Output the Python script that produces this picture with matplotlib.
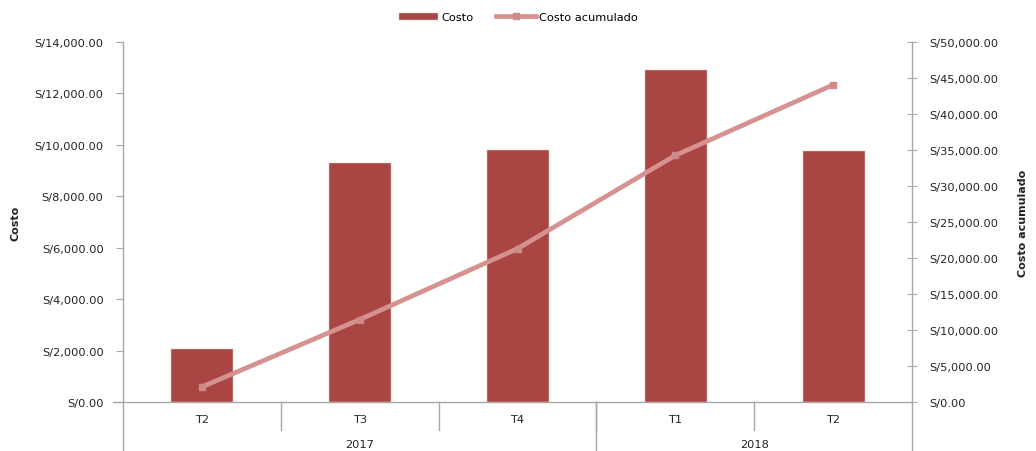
import matplotlib
matplotlib.use("Agg")
import matplotlib.pyplot as plt
import matplotlib.transforms as mtransforms
from matplotlib.ticker import FuncFormatter, MultipleLocator

quarters = ["T2", "T3", "T4", "T1", "T2"]
years = ["2017", "2018"]
year_spans = [3, 2]
costo = [2100, 9350, 9850, 12950, 9800]
costo_acum = [2100, 11450, 21300, 34250, 44050]

bar_color = "#A94543"
line_color = "#D69290"
axis_color = "#A6A6A6"
text_color = "#222222"

plt.rcParams['font.family'] = ['DejaVu Sans']

fig = plt.figure(figsize=(10.36, 4.52), dpi=100)
ax = fig.add_axes([123/1036, 1-403/452, (912-123)/1036, (403-43)/452])
ax2 = ax.twinx()

x = list(range(len(quarters)))
ax.bar(x, costo, width=0.4, color=bar_color, edgecolor="#f2f2f2", linewidth=1.0,
       zorder=2, label="Costo")
ax2.plot(x, costo_acum, color=line_color, lw=3.4, marker="s", markersize=5,
         markerfacecolor="#D08A88", markeredgecolor="#D08A88", zorder=3,
         label="Costo acumulado")

ax.set_xlim(-0.5, len(quarters) - 0.5)
ax.set_ylim(0, 14000)
ax2.set_ylim(0, 50000)
ax.yaxis.set_major_locator(MultipleLocator(2000))
ax2.yaxis.set_major_locator(MultipleLocator(5000))
fmt = FuncFormatter(lambda v, p: "S/{:,.2f}".format(v))
ax.yaxis.set_major_formatter(fmt)
ax2.yaxis.set_major_formatter(fmt)

for a in (ax, ax2):
    for s in a.spines.values():
        s.set_visible(False)
    a.set_xticks([])

ax.tick_params(axis="y", direction="out", length=5, color=axis_color,
               labelsize=8.2, labelcolor=text_color, pad=9)
ax2.tick_params(axis="y", direction="inout", length=7, color=axis_color,
                labelsize=8.2, labelcolor=text_color, pad=9)
ax.set_zorder(ax2.get_zorder() - 1)
ax.patch.set_visible(False)

ax.set_ylabel("Costo", fontsize=8, fontweight="bold", labelpad=10, color=text_color)
ax2.set_ylabel("Costo acumulado", fontsize=8, fontweight="bold", labelpad=14, color=text_color)

# axis lines and category separators
trans = mtransforms.blended_transform_factory(ax.transData, ax.transAxes)
ax_h = 403 - 43
def ay(pix_below):
    return -pix_below / ax_h

kw = dict(color=axis_color, lw=1.0, transform=trans, clip_on=False, zorder=1)
ax.plot([-0.5, -0.5], [1, ay(452 - 403)], **kw)
ax.plot([len(quarters) - 0.5] * 2, [1, ay(452 - 403)], **kw)
ax.plot([-0.5 - 10/157.8, len(quarters) - 0.5], [0, 0], **kw)
for i in range(1, len(quarters)):
    ax.plot([i - 0.5, i - 0.5], [0, ay(28)], **kw)
pos = -0.5
for span in year_spans[:-1]:
    pos += span
    ax.plot([pos, pos], [0, ay(452 - 403)], **kw)

for i, q in enumerate(quarters):
    ax.text(i, ay(17), q, transform=trans, ha="center", va="center",
            fontsize=8.2, color=text_color)
start = -0.5
for yr, span in zip(years, year_spans):
    ax.text(start + span / 2, ay(42), yr, transform=trans, ha="center",
            va="center", fontsize=8.2, color=text_color)
    start += span

h1, l1 = ax.get_legend_handles_labels()
h2, l2 = ax2.get_legend_handles_labels()
fig.legend(h1 + h2, l1 + l2, loc="center", bbox_to_anchor=(0.5, 1 - 18/452),
           ncol=2, frameon=False, fontsize=8.2, handlelength=3.5, columnspacing=2.0,
           handletextpad=0.3)

fig.savefig("out.png", dpi=100)
